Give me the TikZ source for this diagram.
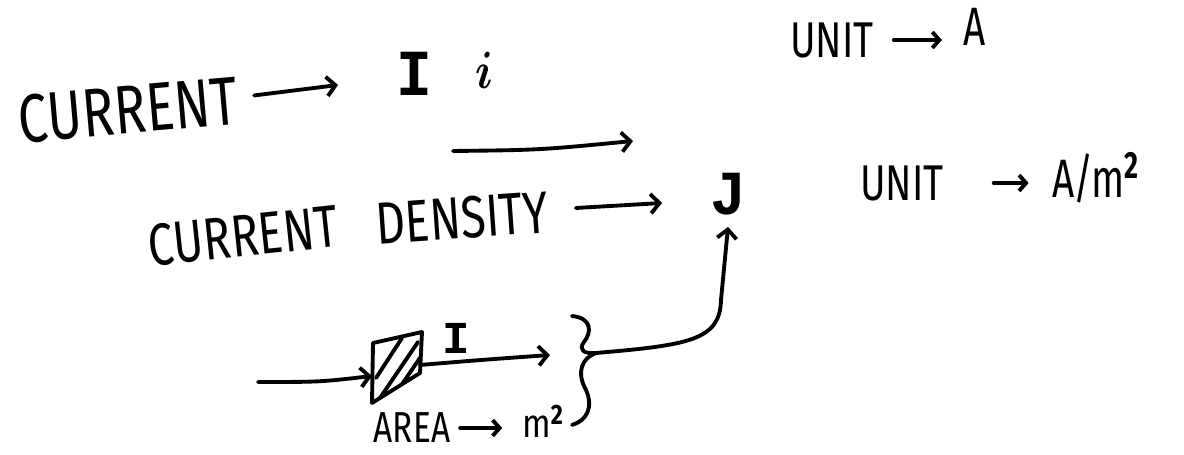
\documentclass[tikz,border=0pt]{standalone}
\usepackage{amsmath}
\usepackage{fontspec}
\usepackage{graphicx}
\setmainfont{Fira Sans}
\newfontfamily\monohand{Liberation Mono}
\usetikzlibrary{arrows.meta}
% tall, narrow lettering in the spirit of hand-printed capitals
\newcommand{\tallword}[2][1.3]{\scalebox{1}[#1]{#2}}
\begin{document}
\begin{tikzpicture}[x=0.02cm,y=-0.02cm,
  ink/.style={line width=2.2pt, line cap=round, line join=round},
  arr/.style={ink, -{Straight Barb[length=5pt,width=11pt,line width=2.2pt]}},
  sarr/.style={ink, -{Straight Barb[length=4pt,width=9pt,line width=2.2pt]}},
  big/.style={font=\fontsize{30}{30}\selectfont, inner sep=0pt, outer sep=0pt},
  row/.style={font=\fontsize{26}{26}\selectfont, inner sep=0pt, outer sep=0pt},
  mid/.style={font=\fontsize{22}{22}\selectfont, inner sep=0pt, outer sep=0pt},
  small/.style={font=\fontsize{19}{19}\selectfont, inner sep=0pt, outer sep=0pt},
  sym/.style={font=\fontsize{34}{34}\bfseries\monohand, inner sep=0pt, outer sep=0pt},
]
\useasboundingbox[fill=white] (0,0) rectangle (1184,455);

% --- current and its symbols
\node[big, rotate=5] (cur) at (128,110) {\tallword{CURRENT}};
\node[sym] (Ibig) at (414,74) {\tallword[1.1]{I}};
\node[font=\fontsize{40}{40}\selectfont, inner sep=0pt] (ismall) at (484,70) {\tallword[1.2]{$\boldsymbol{i}$}};
\draw[arr] ([shift={(17,-5)}]cur.east) -- ([shift={(-58,11)}]Ibig.west);

% --- unit of current
\node[mid] (unit1) at (832,40) {\tallword{UNIT}};
\node[mid] (ampA) at (975,27) {\tallword[1.4]{A}};
\draw[sarr] ([shift={(20,0)}]unit1.east) -- ([shift={(-22,0)}]ampA.west |- unit1.center);

% --- free arrow between the rows
\coordinate (fs) at (453,151);
\coordinate (fe) at (633,141);
\draw[arr] (fs) .. controls (540,150) .. (fe);

% --- current density
\node[row, rotate=6] (cur2) at (243,236) {\tallword[1.3]{CURRENT}};
\node[row, rotate=4] (dens) at (462,218) {\tallword[1.3]{DENSITY}};
\node[sym] (J) at (728,194) {\tallword[1.05]{J}};
\draw[arr] ([shift={(28,-4)}]dens.east) -- ([shift={(-48,9)}]J.west);

% --- unit of current density
\node[mid] (unit2) at (902,183) {\tallword{UNIT}};
\node[mid] (ampm) at (1096,178) {\tallword[1.4]{A\kern-1pt/\kern-1pt m$^{\mathbf 2}$}};
\draw[sarr] ([shift={(50,0)}]unit2.east) -- ([shift={(-24,0)}]ampm.west |- unit2.center);

% --- area element crossed by the current
\coordinate (pa) at (373,343);
\coordinate (pb) at (422,332);
\coordinate (pc) at (420,373);
\coordinate (pd) at (372,403);
\draw[ink] (pa) -- (pb) -- (pc) -- (pd) -- cycle;
\begin{scope}
  \clip (pa) -- (pb) -- (pc) -- (pd) -- cycle;
  \draw[ink] (376,378) -- (402,338);
  \draw[ink] (380,398) -- (418,342);
  \draw[ink] (394,396) -- (424,352);
\end{scope}
\coordinate (in) at (258,382);
\draw[arr] (in) .. controls (320,382) .. (pd |- 0,376);
\coordinate (out) at (550,355);
\draw[arr] (pc |- 0,365) .. controls (480,360) .. (out);
\node[sym, font=\fontsize{26}{26}\bfseries\monohand] (Iarea) at (456,338) {I};
\node[small] (area) at (412,428) {\tallword[1.3]{AREA}};
\node[small] (msq) at (543,421) {\tallword[1.2]{m$^{\mathbf 2}$}};
\draw[sarr] ([shift={(10,0)}]area.east) -- ([shift={(-20,0)}]msq.west |- area.center);

% --- brace gathering current and area, leading up to J
\coordinate (tip) at (596,353);
\draw[ink] (572,316) .. controls (592,318) and (592,332) .. (584,342)
  .. controls (578,350) and (584,354) .. (tip)
  .. controls (582,358) and (576,372) .. (586,390)
  .. controls (594,408) and (586,421) .. (572,425);
\draw[arr] (tip) .. controls (690,345) and (720,340) .. (721,300)
  -- ([shift={(0,12)}]J.south);
\end{tikzpicture}
\end{document}
